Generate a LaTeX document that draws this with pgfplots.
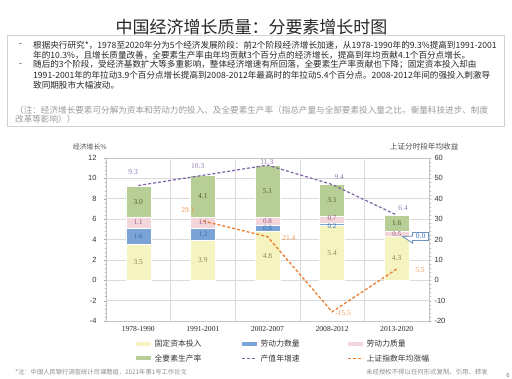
\documentclass[border=0pt]{standalone}
\usepackage{fontspec}
\usepackage{pgfplots}
\usepackage{pgfplotstable}
\pgfplotsset{compat=1.18}
\usetikzlibrary{shapes.callouts}
\setmainfont{Liberation Serif}
\setsansfont{Liberation Sans}
\newfontfamily\cjk{Noto Sans CJK SC}
\definecolor{yc}{RGB}{245,243,192}
\definecolor{bc}{RGB}{124,163,214}
\definecolor{pc}{RGB}{242,214,218}
\definecolor{gc}{RGB}{183,207,150}
\definecolor{purc}{RGB}{128,100,170}
\definecolor{orc}{RGB}{237,125,49}
\definecolor{ylab}{RGB}{140,138,74}
\definecolor{blab}{RGB}{46,109,180}
\definecolor{plab}{RGB}{155,79,134}
\definecolor{glab}{RGB}{77,94,51}
\definecolor{olab}{RGB}{243,150,80}

% stacked contributions (percentage points)
\pgfplotstableread{
x fixed laborq laborqual tfp
0 3.5 1.6 1.1 3.0
1 3.9 1.2 1.1 4.1
2 4.8 0.6 0.8 5.1
3 5.4 0.2 0.7 3.1
4 4.3 0.0 0.5 1.6
}\contrib
% label positions (segment centres)
\pgfplotstableread{
x y lab
0 1.75 3.5
1 1.95 3.9
2 2.40 4.8
3 2.70 5.4
4 2.15 4.3
}\labfixed
\pgfplotstableread{
x y lab
0 4.30 1.6
1 4.50 1.2
2 5.10 0.6
3 5.32 0.2
}\labqty
\pgfplotstableread{
x y lab
0 5.65 1.1
1 5.65 1.1
2 5.80 0.8
3 6.05 0.7
4 4.55 0.5
}\labqual
\pgfplotstableread{
x y lab
0 7.70 3.0
1 8.25 4.1
2 8.75 5.1
3 7.85 3.1
4 5.60 1.6
}\labtfp
\pgfplotstableread{
x y
0 9.3
1 10.3
2 11.3
3 9.4
4 6.4
}\growth
\pgfplotstableread{
x y lab
-0.08 10.6 9.3
0.92 11.2 10.3
1.99 11.6 11.3
3.11 10.1 9.4
4.10 7.07 6.4
}\labgrowth
\pgfplotstableread{
x y
1 29.1
2 21.4
3 -15.5
4 5.5
}\index
\pgfplotstableread{
x y lab
0.77 34.5 29.1
2.33 20.7 21.4
3.17 -16.1 -15.5
4.36 5.0 5.5
}\labindex

\begin{document}
\begin{tikzpicture}
\useasboundingbox (0pt,0pt) rectangle (512pt,-378pt);
% title
\node[font=\cjk\fontsize{17}{19}\selectfont, text=black!85] at (251.5pt,-27pt) {中国经济增长质量：分要素增长时图};
% text box
\draw[black!18, line width=0.6pt] (7pt,-35pt) rectangle (504pt,-126pt);
\begin{scope}[every node/.style={font=\cjk\fontsize{8.6}{10}\selectfont, text=black!85, anchor=west, inner sep=0pt}]
\node at (19pt,-45pt) {-};
\node at (33pt,-45pt) {根据央行研究*，1978至2020年分为5个经济发展阶段：前2个阶段经济增长加速，从1978-1990年的9.3\%提高到1991-2001};
\node at (33pt,-55pt) {年的10.3\%，且增长质量改善，全要素生产率由年均贡献3个百分点的经济增长，提高到年均贡献4.1个百分点增长。};
\node at (19pt,-65pt) {-};
\node at (33pt,-65pt) {随后的3个阶段，受经济基数扩大等多重影响，整体经济增速有所回落，全要素生产率贡献也下降；固定资本投入却由};
\node at (33pt,-75pt) {1991-2001年的年拉动3.9个百分点增长提高到2008-2012年最高时的年拉动5.4个百分点。2008-2012年间的强投入刺激导};
\node at (33pt,-85pt) {致同期股市大幅波动。};
\node[text=black!40] at (15pt,-110pt) {（注：经济增长要素可分解为资本和劳动力的投入、及全要素生产率（指总产量与全部要素投入量之比，衡量科技进步、制度};
\node[text=black!40] at (15pt,-119pt) {改革等影响））};
\end{scope}
% footers
\node[font=\cjk\fontsize{6.3}{7}\selectfont, text=black!45, anchor=west, inner sep=0pt] at (15pt,-372pt) {*注：中国人民银行调查统计司课题组，2021年第1号工作论文};
\node[font=\cjk\fontsize{6.4}{7}\selectfont, text=black!45, anchor=west, inner sep=0pt] at (366pt,-372pt) {未经授权不得以任何形式复制、引用、转发};
\node[font=\sffamily\fontsize{6}{7}\selectfont, text=black!50, inner sep=0pt] at (508pt,-375pt) {6};

% ---------- axis 1: stacked bars, left scale ----------
\begin{axis}[
  at={(106pt,-321pt)}, anchor=south west,
  scale only axis, width=323pt, height=163pt,
  xmin=-0.5, xmax=4.5, ymin=-4, ymax=12,
  ybar stacked, bar width=25pt,
  xtick={0,1,2,3,4},
  xticklabels={1978-1990,1991-2001,2002-2007,2008-2012,2013-2020},
  x tick label style={font=\fontsize{7.6}{8}\selectfont, text=black!85},
  xtick style={draw=none},
  extra x ticks={0.5,1.5,2.5,3.5},
  extra x tick labels={},
  extra x tick style={xmajorgrids=true, tick style={draw=none}},
  ytick={-4,-2,...,12},
  ytick pos=left,
  minor y tick num=4,
  tick align=outside,
  major tick length=2pt, minor tick length=1.5pt,
  y tick style={black!35},
  y tick label style={font=\sffamily\fontsize{7.5}{8}\selectfont, text=black!80, xshift=-4pt},
  /pgf/number format/assume math mode=true,
  ymajorgrids=true,
  grid style={black!14, line width=0.6pt},
  axis line style={black!22, line width=0.6pt},
  ylabel={\cjk 经济增长\%},
  ylabel style={rotate=-90, at={(axis description cs:-0.05,1.067)}, anchor=center, font=\fontsize{6.8}{8}\selectfont, text=black!70},
]
\addplot[fill=yc, draw=white, line width=0.4pt] table[x=x, y=fixed] {\contrib};
\addplot[fill=bc, draw=white, line width=0.4pt] table[x=x, y=laborq] {\contrib};
\addplot[fill=pc, draw=white, line width=0.4pt] table[x=x, y=laborqual] {\contrib};
\addplot[fill=gc, draw=white, line width=0.4pt] table[x=x, y=tfp] {\contrib};
\end{axis}

% ---------- axis 2: labels and growth line, left scale ----------
\begin{axis}[
  at={(106pt,-321pt)}, anchor=south west,
  scale only axis, width=323pt, height=163pt,
  xmin=-0.5, xmax=4.5, ymin=-4, ymax=12,
  hide axis, clip=false,
  nodes near coords style={anchor=center, font=\fontsize{7.5}{8}\selectfont, inner sep=0.5pt},
]
\addplot[draw=none, mark=none, nodes near coords, point meta=explicit symbolic, nodes near coords style={text=ylab}] table[x=x, y=y, meta=lab] {\labfixed};
\addplot[draw=none, mark=none, nodes near coords, point meta=explicit symbolic, nodes near coords style={text=blab, font=\fontsize{7}{7}\selectfont}] table[x=x, y=y, meta=lab] {\labqty};
\addplot[draw=none, mark=none, nodes near coords, point meta=explicit symbolic, nodes near coords style={text=plab, font=\fontsize{7}{7}\selectfont}] table[x=x, y=y, meta=lab] {\labqual};
\addplot[draw=none, mark=none, nodes near coords, point meta=explicit symbolic, nodes near coords style={text=glab}] table[x=x, y=y, meta=lab] {\labtfp};
\addplot[purc, line width=1.2pt, dash pattern=on 3pt off 2pt, mark=none] table[x=x, y=y] {\growth};
\addplot[draw=none, mark=none, nodes near coords, point meta=explicit symbolic, nodes near coords style={text=purc!85}] table[x=x, y=y, meta=lab] {\labgrowth};
\addplot[draw=none, mark=none, nodes near coords, point meta=explicit symbolic,
  nodes near coords style={text=blab, draw=bc!90!black, fill=white, line width=0.8pt, rectangle callout, callout relative pointer={(-10pt,0pt)}, inner sep=1.5pt, minimum width=16pt}] coordinates {(4.37,4.29) [0.0]};
\end{axis}

% ---------- axis 3: right scale, index line, legend ----------
\begin{axis}[
  at={(106pt,-321pt)}, anchor=south west,
  scale only axis, width=323pt, height=163pt,
  xmin=-0.5, xmax=4.5, ymin=-20, ymax=60,
  axis y line*=right, axis x line=none,
  ytick={-20,-10,...,60},
  minor y tick num=4,
  tick align=outside,
  major tick length=2pt, minor tick length=1.5pt,
  y tick style={black!35},
  y tick label style={font=\sffamily\fontsize{7.5}{8}\selectfont, text=black!80, xshift=0pt},
  /pgf/number format/assume math mode=true,
  axis line style={black!22, line width=0.6pt},
  clip=false,
  ylabel={\cjk 上证分时段年均收益},
  ylabel style={rotate=-90, at={(axis description cs:0.985,1.067)}, anchor=center, font=\fontsize{7.6}{8}\selectfont, text=black!70},
  nodes near coords style={anchor=center, font=\fontsize{7.5}{8}\selectfont, inner sep=0.5pt},
  legend columns=3,
  legend style={at={(axis description cs:0.085,-0.105)}, anchor=north west, draw=none, fill=none,
    font=\cjk\fontsize{7.8}{9}\selectfont, text=black!80, inner sep=0pt, row sep=2pt,
    /tikz/every even column/.append style={column sep=3pt}},
  legend cell align=left,
  legend image code/.code={\draw[#1] (0pt,0pt) -- (15pt,0pt);},
]
\addlegendimage{yc, line width=4pt}
\addlegendimage{bc, line width=4pt}
\addlegendimage{pc, line width=4pt}
\addlegendimage{gc, line width=4pt}
\addlegendimage{purc, line width=1.2pt, dash pattern=on 3pt off 2pt}
\addlegendimage{orc, line width=1.3pt, dash pattern=on 3pt off 2pt}
\addlegendentry{\makebox[80pt][l]{固定资本投入}}
\addlegendentry{\makebox[80pt][l]{劳动力数量}}
\addlegendentry{\makebox[80pt][l]{劳动力质量}}
\addlegendentry{\makebox[80pt][l]{全要素生产率}}
\addlegendentry{\makebox[80pt][l]{产值年增速}}
\addlegendentry{\makebox[80pt][l]{上证指数年均涨幅}}
\addplot[orc, line width=1.3pt, dash pattern=on 3pt off 2pt, mark=none, forget plot] table[x=x, y=y] {\index};
\addplot[draw=none, mark=none, forget plot, nodes near coords, point meta=explicit symbolic, nodes near coords style={text=olab}] table[x=x, y=y, meta=lab] {\labindex};
\end{axis}
\end{tikzpicture}
\end{document}
